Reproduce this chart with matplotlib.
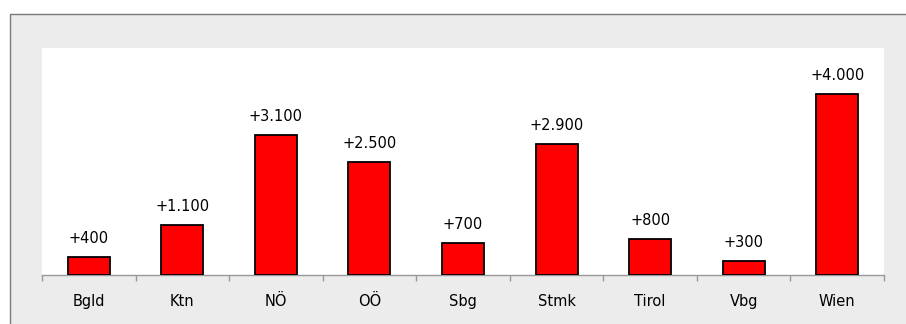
import numpy as np
import matplotlib.pyplot as plt
from matplotlib.patches import Rectangle

# Daten
regionen = ["Bgld", "Ktn", "NÖ", "OÖ", "Sbg", "Stmk", "Tirol", "Vbg", "Wien"]
zuwachs = [400, 1100, 3100, 2500, 700, 2900, 800, 300, 4000]
beschriftung = ["+400", "+1.100", "+3.100", "+2.500", "+700", "+2.900", "+800", "+300", "+4.000"]

W, H = 906, 324
fig = plt.figure(figsize=(W / 100, H / 100), dpi=100)
fig.patch.set_facecolor("white")

# grauer Rahmen hinter dem Diagramm
fig.patches.append(Rectangle((9.5 / W, -0.1), 1.2, 1 - 13.5 / H + 0.1,
                             transform=fig.transFigure, facecolor="#ececec",
                             edgecolor="#7a7a7a", linewidth=1.0, zorder=-10))

ax = fig.add_axes([42 / W, (H - 275) / H, 842 / W, 227 / H])
ax.set_zorder(5)
ax.set_facecolor("white")

xs = np.arange(len(regionen))
ax.bar(xs, zuwachs, width=0.45, color="#ff0000", edgecolor="black",
       linewidth=1.3, zorder=3)

for xi, v, t in zip(xs, zuwachs, beschriftung):
    ax.annotate(t, (xi, v), xytext=(0, 8), textcoords="offset points",
                ha="center", va="bottom", fontsize=10.5, color="black")

ax.set_xlim(-0.5, len(regionen) - 0.5)
ax.set_ylim(0, 5020)

for s in ["top", "right", "left"]:
    ax.spines[s].set_visible(False)
ax.spines["bottom"].set_color("#999999")
ax.spines["bottom"].set_linewidth(1.0)

ax.set_yticks([])
ax.set_xticks(xs)
ax.set_xticklabels(regionen, fontsize=10.5)
ax.tick_params(axis="x", length=0, pad=13.5)
ax.set_xticks(np.arange(len(regionen) + 1) - 0.5, minor=True)
ax.tick_params(axis="x", which="minor", length=4, color="#999999", width=1.0)

fig.savefig("out.png", dpi=100)
